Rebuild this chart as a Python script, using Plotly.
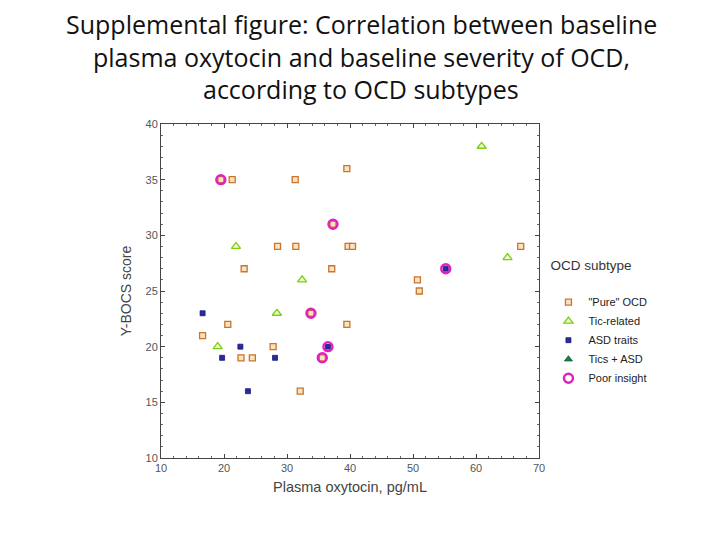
import plotly.graph_objects as go

# Data
pure_x = [21.3, 31.3, 39.5, 28.5, 31.4, 39.7, 40.4, 23.2, 37.1, 50.7, 51.0, 67.1,
          16.6, 20.6, 39.5, 22.7, 24.5, 27.8, 32.1, 19.5, 37.3, 33.8, 35.6]
pure_y = [35, 35, 36, 29, 29, 29, 29, 27, 27, 26, 25, 29,
          21, 22, 22, 19, 19, 20, 16, 35, 31, 23, 19]

tic_x = [21.9, 32.4, 19.0, 28.4, 60.9, 65.0]
tic_y = [29, 26, 20, 23, 38, 28]

asd_x = [16.6, 19.7, 22.6, 23.8, 28.1, 36.5, 55.2]
asd_y = [23, 19, 20, 16, 19, 20, 27]

tics_asd_x = [None]
tics_asd_y = [None]

poor_x = [19.5, 37.3, 33.8, 35.6, 36.5, 55.2]
poor_y = [35, 31, 23, 19, 20, 27]

title_lines = ["Supplemental figure: Correlation between baseline",
               "plasma oxytocin and baseline severity of OCD,",
               "according to OCD subtypes"]

fig = go.Figure()

fig.add_trace(go.Scatter(x=pure_x, y=pure_y, mode="markers", name='"Pure" OCD',
                         marker=dict(symbol="square", size=6, color="#FBE3C0",
                                     line=dict(color="#C8752E", width=1.3))))
fig.add_trace(go.Scatter(x=tic_x, y=tic_y, mode="markers", name="Tic-related",
                         marker=dict(symbol="triangle-up", size=8, color="#EFFAD0",
                                     line=dict(color="#7CCF12", width=1.3))))
fig.add_trace(go.Scatter(x=asd_x, y=asd_y, mode="markers", name="ASD traits",
                         marker=dict(symbol="square", size=5, color="#2A2A9A",
                                     line=dict(color="#1A1A7A", width=0.8))))
fig.add_trace(go.Scatter(x=tics_asd_x, y=tics_asd_y, mode="markers", name="Tics + ASD",
                         marker=dict(symbol="triangle-up", size=7, color="#1E8040",
                                     line=dict(color="#146030", width=0.8))))
fig.add_trace(go.Scatter(x=poor_x, y=poor_y, mode="markers", name="Poor insight",
                         marker=dict(symbol="circle-open", size=9, color="#E020C0",
                                     line=dict(color="#E020C0", width=2.4))))

axis_common = dict(showline=True, linecolor="#444", linewidth=1, mirror="allticks",
                   ticks="inside", ticklen=4, tickcolor="#444", showgrid=False,
                   zeroline=False, tickfont=dict(family="Liberation Sans", size=11, color="#555"))

fig.update_xaxes(range=[10, 70], dtick=10, tick0=10,
                 minor=dict(dtick=2, ticks="inside", ticklen=2, tickcolor="#666"),
                 title=dict(text="Plasma oxytocin, pg/mL",
                            font=dict(family="Liberation Sans", size=14.5, color="#444"),
                            standoff=8),
                 **axis_common)
fig.update_yaxes(range=[10, 40], dtick=5, tick0=10,
                 minor=dict(dtick=1, ticks="inside", ticklen=2, tickcolor="#666"),
                 title=dict(text="Y-BOCS score",
                            font=dict(family="Liberation Sans", size=14, color="#444"),
                            standoff=10),
                 **axis_common)

ann = []
for i, line in enumerate(title_lines):
    ann.append(dict(text=line, xref="paper", yref="paper", x=0.53, y=1.300 - 0.098 * i,
                    xanchor="center", yanchor="middle", showarrow=False,
                    font=dict(family="Open Sans", size=25, color="#111")))

fig.update_layout(
    width=720, height=540,
    margin=dict(l=153, r=189, t=116, b=90),
    paper_bgcolor="white", plot_bgcolor="white",
    annotations=ann,
    legend=dict(x=1.025, y=0.615, xanchor="left", yanchor="top",
                title=dict(text="OCD subtype<br> ",
                           font=dict(family="Liberation Sans", size=13.5, color="#333")),
                font=dict(family="Liberation Sans", size=11, color="#222"),
                tracegroupgap=0, itemwidth=30, bgcolor="rgba(0,0,0,0)"),
    showlegend=True,
)

fig.write_html("out.html")
